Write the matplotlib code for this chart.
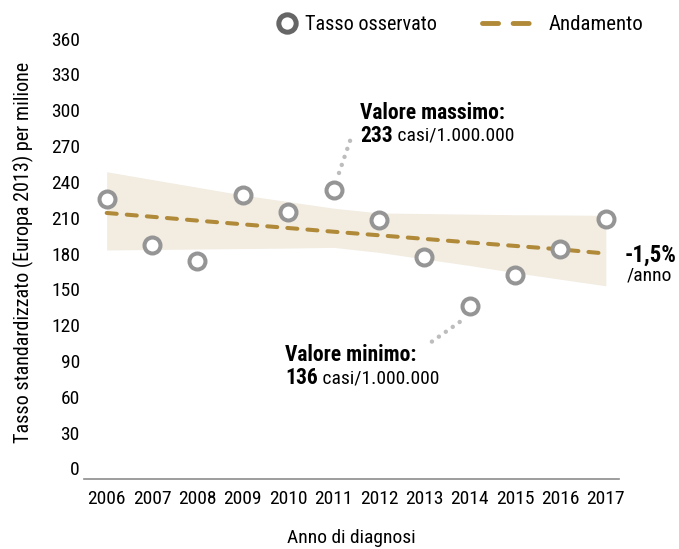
import numpy as np
import matplotlib
matplotlib.use('Agg')
import matplotlib.pyplot as plt
from matplotlib.lines import Line2D
from matplotlib import font_manager

# data
years = [2006, 2007, 2008, 2009, 2010, 2011, 2012, 2013, 2014, 2015, 2016, 2017]
observed = [226, 187, 174, 229, 215, 233, 208, 177, 136, 162, 184, 209]
trend = [214, 210.8, 207.6, 204.5, 201.4, 198.3, 195.3, 192.3, 189.3, 186.4, 183.5, 180]
band_upper = [248.5, 242, 235.5, 229, 223.5, 218, 214, 213.5, 213, 212.5, 212.3, 212]
band_lower = [183, 183.4, 183.8, 184.2, 184.6, 185.2, 181, 175.5, 170, 164, 158.5, 153]
yticks = list(range(0, 361, 30))

names = {f.name for f in font_manager.fontManager.ttflist}
family = 'DejaVu Sans'
for cand in ['Roboto Condensed', 'Liberation Sans Narrow', 'Roboto']:
    if cand in names:
        family = cand
        break
plt.rcParams['font.family'] = [family, 'DejaVu Sans']
plt.rcParams['font.size'] = 14

fig = plt.figure(figsize=(6.79, 5.49), dpi=100)
ax = fig.add_axes([0.1237, 0.1275, 0.7879, 0.8239])

ax.fill_between(years, band_lower, band_upper, color='#f2ece1', lw=0, zorder=1)
ax.plot(years, trend, color='#b08a38', lw=2.9, dashes=(2.5, 2.5),
        dash_capstyle='round', zorder=2)
ax.plot(years, observed, ls='none', marker='o', ms=11.5, mew=2.9,
        mfc='white', mec='#959595', zorder=3)

# dotted leaders for max / min
imax = int(np.argmax(observed))
imin = int(np.argmin(observed))
ax.plot([years[imax] + 0.12, years[imax] + 0.40], [247.5, 278.5], color='#bdbdbd',
        lw=3.2, dashes=(0.01, 1.9), dash_capstyle='round', zorder=2)
ax.plot([years[imin] - 0.22, years[imin] - 0.97], [122.7, 102.6], color='#bdbdbd',
        lw=3.2, dashes=(0.01, 1.9), dash_capstyle='round', zorder=2)

ax.text(2011.58, 298, 'Valore massimo:', fontweight='bold', fontsize=15.5,
        va='center', ha='left')
t = ax.text(2011.58, 278.5, f'{observed[imax]}', fontweight='bold', fontsize=15.5,
            va='center', ha='left')
ax.annotate(' casi/1.000.000', xycoords=t, xy=(1, 0.5), va='center', ha='left')

ax.text(2009.93, 95, 'Valore minimo:', fontweight='bold', fontsize=15.5,
        va='center', ha='left')
t2 = ax.text(2009.93, 75.5, f'{observed[imin]}', fontweight='bold', fontsize=15.5,
             va='center', ha='left')
ax.annotate(' casi/1.000.000', xycoords=t2, xy=(1, 0.5), va='center', ha='left')

ax.text(2017.42, 178.8, '-1,5%', fontweight='bold', fontsize=16.5, va='center', ha='left')
ax.text(2017.47, 162, '/anno', fontsize=14, va='center', ha='left')

ax.set_xlim(2005.5, 2017.29)
ax.set_ylim(-8.8, 370)
ax.set_xticks(years)
ax.set_yticks(yticks)
ax.tick_params(axis='both', length=0, labelsize=14)
ax.tick_params(axis='x', pad=8)
ax.tick_params(axis='y', pad=3)
for s in ['top', 'right', 'left']:
    ax.spines[s].set_visible(False)
ax.spines['bottom'].set_color('#8c8c8c')
ax.spines['bottom'].set_linewidth(1.2)

ax.set_xlabel('Anno di diagnosi', fontsize=14, labelpad=15)
ax.set_ylabel('Tasso standardizzato (Europa 2013) per milione', fontsize=14.5, labelpad=12)

# legend
h1 = Line2D([], [], ls='none', marker='o', ms=12.5, mew=3.6, mfc='white', mec='#666666')
leg1 = fig.legend([h1], ['Tasso osservato'], loc='center left',
                  bbox_to_anchor=(0.406, 0.9545), frameon=False, handlelength=1.1,
                  handletextpad=0.34, borderpad=0, borderaxespad=0, fontsize=14.5)
h2 = Line2D([], [], color='#b08a38', lw=3.5, dashes=(3.3, 3.0), dash_capstyle='round')
leg2 = fig.legend([h2], ['Andamento'], loc='center left',
                  bbox_to_anchor=(0.7099, 0.9545), frameon=False, handlelength=2.8,
                  handletextpad=0.4, borderpad=0, borderaxespad=0, fontsize=15)

fig.savefig('out.png', dpi=100)
